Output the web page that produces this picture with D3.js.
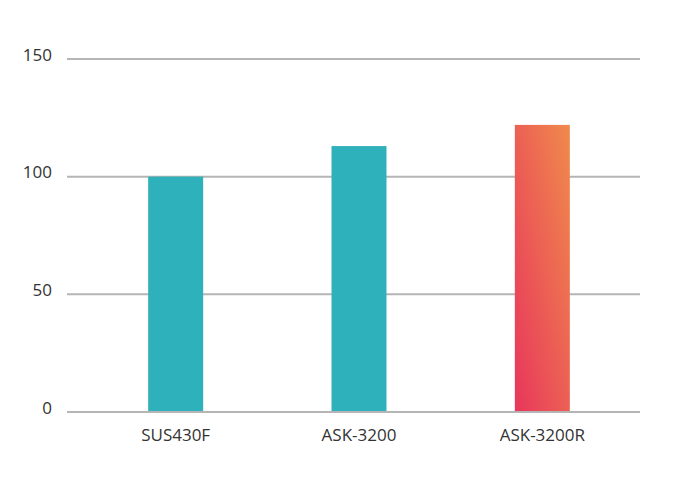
<!DOCTYPE html>
<html><head><meta charset="utf-8">
<script src="https://cdn.jsdelivr.net/npm/d3@7"></script>
<style>body{margin:0;background:#fff}</style></head>
<body><svg id="c" width="677" height="490"></svg>
<script>
const categories = ["SUS430F", "ASK-3200", "ASK-3200R"];
const values = [100, 113, 122];
const yTicks = [0, 50, 100, 150];

const svg = d3.select("#c");
const x = d3.scaleBand().domain(categories).range([84, 634]).paddingInner(0.7).paddingOuter(0.35);
const y = d3.scaleLinear().domain([0, 150]).range([412, 59]);

const defs = svg.append("defs");
const g = defs.append("linearGradient").attr("id", "grad").attr("x1", "100%").attr("y1", "0%").attr("x2", "0%").attr("y2", "100%");
g.append("stop").attr("offset", "0%").attr("stop-color", "#F08A4C");
g.append("stop").attr("offset", "100%").attr("stop-color", "#E8365C");

svg.append("g").selectAll("line").data(yTicks).join("line")
  .attr("x1", 67).attr("x2", 640).attr("y1", d => y(d)).attr("y2", d => y(d))
  .attr("stroke", "#b5b5b5").attr("stroke-width", 2);

svg.append("g").selectAll("text").data(yTicks).join("text")
  .attr("x", 52).attr("y", d => y(d) - 3).attr("text-anchor", "end").attr("dominant-baseline", "middle")
  .attr("font-family", "'Open Sans', sans-serif").attr("font-size", 17).attr("fill", "#333")
  .text(d => d);

svg.append("g").selectAll("rect").data(values).join("rect")
  .attr("x", (d, i) => x(categories[i])).attr("width", x.bandwidth())
  .attr("y", d => y(d)).attr("height", d => y(0) - y(d) - 1)
  .attr("fill", (d, i) => i === 2 ? "url(#grad)" : "#2EB1BA");

svg.append("g").selectAll("text").data(categories).join("text")
  .attr("x", d => x(d) + x.bandwidth() / 2).attr("y", 441).attr("text-anchor", "middle")
  .attr("font-family", "'Open Sans', sans-serif").attr("font-size", 17).attr("fill", "#333")
  .text(d => d);
</script></body></html>
